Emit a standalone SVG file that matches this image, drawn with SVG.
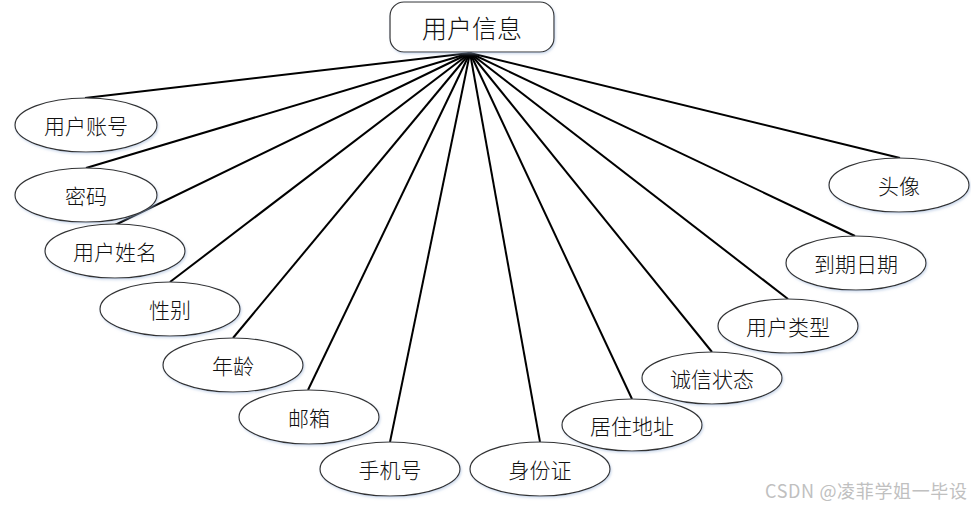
<svg xmlns="http://www.w3.org/2000/svg" width="971" height="509" viewBox="0 0 971 509">
<defs>
<filter id="sh" x="-10%" y="-20%" width="120%" height="140%">
<feDropShadow dx="1" dy="1.5" stdDeviation="1.2" flood-color="#9fb6d9" flood-opacity="0.5"/>
</filter>
</defs>
<style>
.e{fill:#fff;stroke:#333;stroke-width:1.2;filter:url(#sh)}
.t{font-family:"Noto Sans CJK SC","Noto Sans",sans-serif;font-size:21px;font-weight:300;fill:#111;text-anchor:middle;dominant-baseline:central}
.c line{stroke:#000;stroke-width:2}
.wm{font-family:"Noto Sans CJK SC","Noto Sans",sans-serif;font-size:18px;fill:#c0c0c0}
</style>
<rect width="971" height="509" fill="#fff"/>
<g class="c" id="connectors">
<line x1="470" y1="53" x2="85" y2="98"/>
<line x1="470" y1="53" x2="86" y2="168"/>
<line x1="470" y1="53" x2="115" y2="225"/>
<line x1="470" y1="53" x2="170" y2="282"/>
<line x1="470" y1="53" x2="233" y2="338"/>
<line x1="470" y1="53" x2="308" y2="390"/>
<line x1="470" y1="53" x2="390" y2="442"/>
<line x1="470" y1="53" x2="540" y2="442"/>
<line x1="470" y1="53" x2="632" y2="399"/>
<line x1="470" y1="53" x2="712" y2="352"/>
<line x1="470" y1="53" x2="788" y2="299"/>
<line x1="470" y1="53" x2="855" y2="236"/>
<line x1="470" y1="53" x2="900" y2="158"/>
</g>
<g id="root">
<rect x="390" y="2" width="164" height="50" rx="14" fill="#fff" stroke="#333" stroke-width="1.2" filter="url(#sh)"/>
<text class="t" x="472" y="27" style="font-size:25px">用户信息</text>
</g>
<g id="n1"><ellipse class="e" cx="86" cy="125" rx="71" ry="27"/><text class="t" x="86" y="125">用户账号</text></g>
<g id="n2"><ellipse class="e" cx="86" cy="195" rx="71" ry="27"/><text class="t" x="86" y="195">密码</text></g>
<g id="n3"><ellipse class="e" cx="115" cy="251" rx="70" ry="27"/><text class="t" x="115" y="251">用户姓名</text></g>
<g id="n4"><ellipse class="e" cx="170" cy="309" rx="70" ry="27"/><text class="t" x="170" y="309">性别</text></g>
<g id="n5"><ellipse class="e" cx="233" cy="365" rx="70" ry="27"/><text class="t" x="233" y="365">年龄</text></g>
<g id="n6"><ellipse class="e" cx="309" cy="417" rx="70" ry="27"/><text class="t" x="309" y="417">邮箱</text></g>
<g id="n7"><ellipse class="e" cx="390" cy="469" rx="70" ry="27"/><text class="t" x="390" y="469">手机号</text></g>
<g id="n8"><ellipse class="e" cx="540" cy="469" rx="70" ry="27"/><text class="t" x="540" y="469">身份证</text></g>
<g id="n9"><ellipse class="e" cx="632" cy="425" rx="70" ry="26"/><text class="t" x="632" y="425">居住地址</text></g>
<g id="n10"><ellipse class="e" cx="712" cy="378" rx="70" ry="26"/><text class="t" x="712" y="378">诚信状态</text></g>
<g id="n11"><ellipse class="e" cx="788" cy="326" rx="70" ry="27"/><text class="t" x="788" y="326">用户类型</text></g>
<g id="n12"><ellipse class="e" cx="856" cy="263" rx="70" ry="27"/><text class="t" x="856" y="263">到期日期</text></g>
<g id="n13"><ellipse class="e" cx="899" cy="185" rx="70" ry="27"/><text class="t" x="899" y="185">头像</text></g>
<text class="wm" x="765" y="498" textLength="202" lengthAdjust="spacing">CSDN @凌菲学姐一毕设</text>
</svg>
